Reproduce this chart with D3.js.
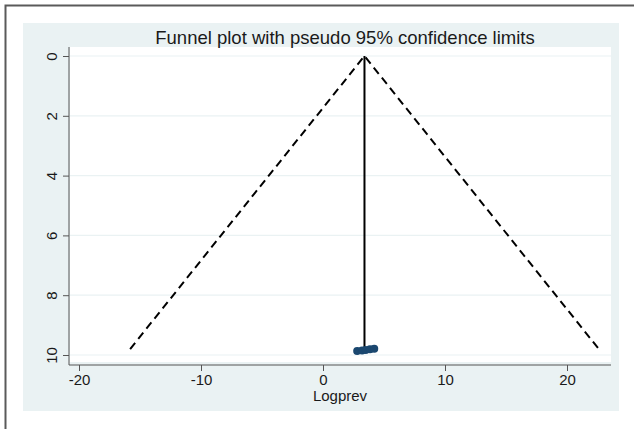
<!DOCTYPE html><html lang="en"><head><meta charset="utf-8">
<title>Funnel plot</title>
<style>
body {
	margin: 0;
	background: #fff;
}
svg text {
	font-family: "Liberation Sans", Arial, sans-serif;
	fill: #1a1a1a;
}
</style>
<script src="https://cdn.jsdelivr.net/npm/d3@7"></script>
</head>
<body>
<div id="chart"></div>
<script>
// study estimates (log prevalence) and their standard errors
const logprev = [2.8, 3.2, 3.5, 3.85, 4.2];
const se = [9.87, 9.85, 9.83, 9.81, 9.79];
const pooled = 3.4;
const maxSE = 9.8;
const xTicks = [-20, -10, 0, 10, 20];
const yTicks = [0, 2, 4, 6, 8, 10];
const title = "Funnel plot with pseudo 95% confidence limits";
const xLabel = "Logprev";

const W = 634, H = 429;
const svg = d3.select("#chart").append("svg")
	.attr("width", W)
	.attr("height", H);

// outer frame and graph region
svg.append("path")
	.attr("d", `M5.5,${H} V5.5 H${W}`)
	.attr("fill", "none")
	.attr("stroke", "#5a5a5a")
	.attr("stroke-width", 2);
svg.append("rect")
	.attr("x", 23).attr("y", 23)
	.attr("width", 596).attr("height", 388)
	.attr("fill", "#eaf2f3");

// plot region
const plotL = 69, plotR = 611, plotT = 47, plotB = 362, axisY = 365;
svg.append("rect")
	.attr("x", plotL + 1).attr("y", plotT)
	.attr("width", plotR - plotL - 1).attr("height", plotB - plotT)
	.attr("fill", "#fff");

const x = d3.scaleLinear().domain([-20, 20]).range([79, 567]);
const y = d3.scaleLinear().domain([0, 10]).range([56, 355]);

// grid lines
svg.append("g")
	.selectAll("line")
	.data(yTicks)
	.join("line")
		.attr("x1", plotL + 1).attr("x2", plotR)
		.attr("y1", d => y(d)).attr("y2", d => y(d))
		.attr("stroke", "#eaf2f3")
		.attr("stroke-width", 1.2);

// axes
const yAxis = svg.append("g")
	.attr("transform", `translate(${plotL},0)`)
	.call(d3.axisLeft(y).tickValues(yTicks).tickSize(6).tickFormat(d => String(d)));
yAxis.select(".domain").attr("d", `M0,${plotT}V${axisY}`);
yAxis.selectAll(".tick text")
	.attr("transform", "rotate(-90)")
	.attr("x", 0).attr("y", -12)
	.attr("dy", "0")
	.attr("text-anchor", "middle");

const xAxis = svg.append("g")
	.attr("transform", `translate(0,${axisY})`)
	.call(d3.axisBottom(x).tickValues(xTicks).tickSize(6).tickFormat(d => String(d)));
xAxis.select(".domain").attr("d", `M${plotL},0H${plotR}`);

svg.selectAll(".domain, .tick line").attr("stroke", "#555").attr("stroke-width", 1);
svg.selectAll(".tick text").attr("font-size", 15).attr("fill", "#1a1a1a");
xAxis.selectAll(".tick text").attr("y", 9).attr("dy", "0.75em");

// title and axis label
svg.append("text")
	.attr("x", 345).attr("y", 44)
	.attr("text-anchor", "middle")
	.attr("font-size", 18.5)
	.text(title);
svg.append("text")
	.attr("x", 340).attr("y", 401)
	.attr("text-anchor", "middle")
	.attr("font-size", 15)
	.text(xLabel);

// pseudo 95% confidence limits
const lo = pooled - 1.96 * maxSE, hi = pooled + 1.96 * maxSE;
const line = d3.line().x(d => x(d[0])).y(d => y(d[1]));
svg.append("path")
	.attr("d", line([[lo, maxSE], [pooled, 0], [hi, maxSE]]))
	.attr("fill", "none")
	.attr("stroke", "#000")
	.attr("stroke-width", 2)
	.attr("stroke-dasharray", "8,5");
svg.append("path")
	.attr("d", line([[pooled, 0], [pooled, maxSE]]))
	.attr("fill", "none")
	.attr("stroke", "#000")
	.attr("stroke-width", 2);

// studies
svg.append("g")
	.selectAll("circle")
	.data(logprev)
	.join("circle")
		.attr("cx", d => x(d))
		.attr("cy", (d, i) => y(se[i]))
		.attr("r", 4)
		.attr("fill", "#1a476f");
</script>
</body>
</html>
